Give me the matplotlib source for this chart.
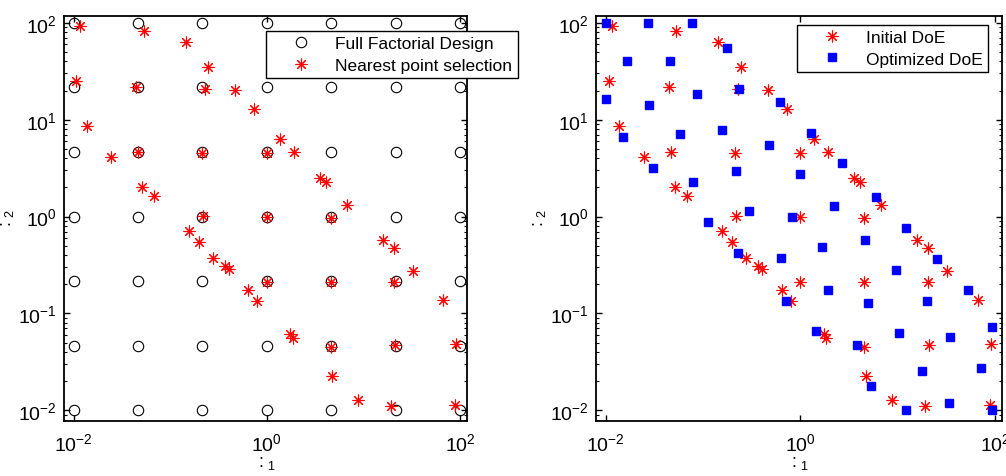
import numpy as np
import matplotlib
matplotlib.use("Agg")
import matplotlib.pyplot as plt

plt.rcParams["font.family"] = ["Liberation Sans", "DejaVu Sans"]
plt.rcParams["mathtext.fontset"] = "custom"
plt.rcParams["mathtext.rm"] = "Liberation Sans"
plt.rcParams["mathtext.it"] = "Liberation Sans:italic"

# full factorial levels (same for both factors)
ff_levels = [0.01, 0.0464, 0.215, 1.0, 4.64, 21.5, 100.0]

# nearest point selection / initial DoE
init_x = [0.0115, 0.0533, 0.144, 0.245, 0.0107, 0.0445, 0.2265, 0.466, 0.733, 0.0136,
          0.0245, 0.0467, 0.212, 1.0, 0.0513, 0.0676, 0.217, 1.0, 0.156, 1.38,
          1.9, 3.58, 4.13, 6.76, 4.55, 15.8, 20.5, 32.3, 1.0, 4.55,
          20.5, 66.5, 0.641, 0.794, 0.198, 0.275, 0.364, 0.404, 1.73, 1.85,
          4.55, 20.9, 90.6, 4.73, 8.79, 19.0, 87.7]
init_y = [93.8, 83.2, 64.1, 35.4, 25.2, 21.5, 20.8, 20.3, 12.9, 8.7,
          4.1, 4.6, 4.5, 4.5, 2.04, 1.62, 1.02, 0.99, 0.705, 6.34,
          4.6, 2.5, 2.26, 1.32, 0.97, 0.573, 0.474, 0.272, 0.213, 0.213,
          0.21, 0.139, 0.176, 0.133, 0.542, 0.373, 0.306, 0.287, 0.0612, 0.0557,
          0.0446, 0.0468, 0.0483, 0.0224, 0.0129, 0.0111, 0.0114]

# optimized DoE
opt_x = [0.01, 0.0273, 0.0769, 0.0164, 0.0454, 0.177, 0.01, 0.0281, 0.0865, 0.234,
         0.614, 0.0152, 0.0583, 0.158, 0.473, 0.0304, 0.0797, 0.218, 0.1135, 0.296,
         1.27, 2.65, 0.98, 5.96, 2.23, 0.826, 12.1, 4.64, 1.66, 0.638,
         25.4, 9.53, 52.2, 1.91, 0.718, 4.98, 19.8, 92.5, 1.45, 10.3,
         34.2, 3.81, 71.4, 17.9, 5.30, 33.4, 12.1, 92.5, 0.230]
opt_y = [100, 100, 100, 40.5, 40.5, 54.8, 16.4, 14.3, 18.2, 20.5,
         15.2, 6.6, 7.13, 7.9, 5.53, 3.18, 2.26, 2.94, 0.873, 1.135,
         7.26, 3.58, 2.76, 1.58, 1.30, 1.0, 0.767, 0.573, 0.489, 0.373,
         0.365, 0.281, 0.175, 0.175, 0.133, 0.127, 0.133, 0.0729, 0.0653, 0.0622,
         0.0574, 0.0475, 0.0273, 0.0256, 0.0179, 0.0118, 0.01, 0.01, 0.418]

ast = (8, 2, 0)

def style_axes(ax):
    ax.set_xscale("log"); ax.set_yscale("log")
    ax.set_xlim(10**-2.1, 10**2.07)
    ax.set_ylim(10**-2.11, 10**2.07)
    ax.set_xticks([1e-2, 1e0, 1e2])
    ax.set_yticks([1e-2, 1e-1, 1e0, 1e1, 1e2])
    ax.xaxis.set_minor_locator(matplotlib.ticker.NullLocator())
    ax.tick_params(which="both", direction="in", top=True, right=True, labelsize=14)
    ax.tick_params(which="major", length=4, width=1, pad=5)
    ax.tick_params(axis="x", which="major", pad=8)
    ax.tick_params(which="minor", length=2.5, width=0.8)
    for s in ax.spines.values():
        s.set_linewidth(1.3)
    ax.set_xlabel(r"$:_{1}$", fontsize=13, labelpad=0)
    ax.set_ylabel(r"$:_{2}$", fontsize=13, labelpad=2)

fig = plt.figure(figsize=(10.06, 4.77), dpi=100)
ax1 = fig.add_axes([0.0636, 0.1153, 0.4006, 0.849])
ax2 = fig.add_axes([0.5924, 0.1153, 0.4036, 0.849])

gx, gy = np.meshgrid(ff_levels, ff_levels)
ax1.plot(gx.ravel(), gy.ravel(), "o", mfc="none", mec="black", ms=7.5, mew=0.8,
         label="Full Factorial Design")
ax1.plot(init_x, init_y, ls="none", marker=ast, color="red", ms=8.5, mew=0.8,
         label="Nearest point selection")
style_axes(ax1)
leg_kw = dict(loc="upper left", fontsize=12.5, frameon=True, fancybox=False,
              edgecolor="black", framealpha=1, handlelength=3.5, handletextpad=0.2,
              borderaxespad=0, labelspacing=0.35, borderpad=0.3)
l1 = ax1.legend(bbox_to_anchor=(0.501, 0.963), **leg_kw)
l1.get_frame().set_linewidth(1.0)

ax2.plot(init_x, init_y, ls="none", marker=ast, color="red", ms=8.5, mew=0.8,
         label="Initial DoE")
ax2.plot(opt_x, opt_y, "s", color="blue", ms=6, label="Optimized DoE")
style_axes(ax2)
l2 = ax2.legend(bbox_to_anchor=(0.494, 0.978), **leg_kw)
l2.get_frame().set_linewidth(1.0)

fig.savefig("out.png", dpi=100)
